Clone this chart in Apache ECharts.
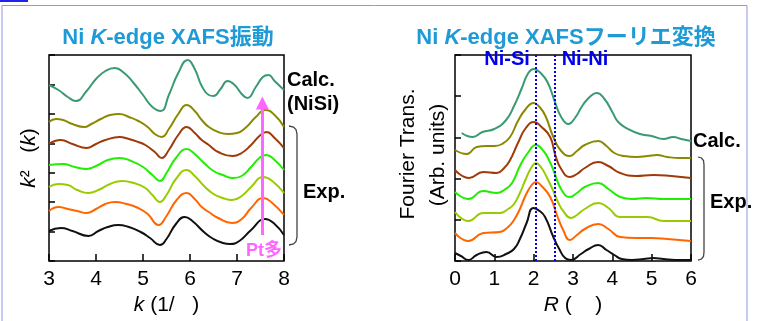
<!DOCTYPE html>
<html><head><meta charset="utf-8">
<script src="https://cdn.jsdelivr.net/npm/echarts@6/dist/echarts.min.js"></script>
<style>html,body{margin:0;padding:0;background:#fff}#c{width:758px;height:321px}</style>
</head><body><div id="c"></div>
<script>
// ---- data (arbitrary units, curves stacked with offsets as in the figure) ----
const kTicks = [3, 4, 5, 6, 7, 8];
const rTicks = [0, 1, 2, 3, 4, 5, 6];
const chiCalc = [[3.0,176],[3.2,171],[3.4,164],[3.57,160],[3.8,170],[4.0,182],[4.2,190],[4.4,193],[4.6,188],[4.8,178],[5.0,166],[5.2,154],[5.38,150],[5.55,166],[5.75,188],[5.95,201],[6.1,192],[6.25,175],[6.4,166],[6.5,165],[6.65,172],[6.8,180],[6.95,176],[7.1,167],[7.22,163],[7.4,174],[7.55,184],[7.67,186],[7.8,180],[8.0,171]];
const chiOlive = [[3.0,139],[3.15,142],[3.3,141],[3.5,137],[3.75,134],[3.9,137],[4.1,142],[4.3,146],[4.5,147],[4.7,144],[4.9,140],[5.1,134],[5.25,127],[5.4,124],[5.55,132],[5.75,147],[5.93,156],[6.1,150],[6.25,141],[6.4,134],[6.6,129],[6.8,127],[7.0,128],[7.2,134],[7.4,144],[7.6,151],[7.8,146],[8.0,134]];
const chiBrown = [[3.0,117],[3.25,121],[3.5,117],[3.8,113],[4.0,117],[4.2,121],[4.5,124],[4.7,122],[4.9,119],[5.05,116],[5.25,109],[5.4,103],[5.55,111],[5.75,126],[5.93,134],[6.1,128],[6.25,121],[6.4,116],[6.6,109],[6.9,105],[7.1,108],[7.3,116],[7.5,126],[7.63,129],[7.8,123],[8.0,113]];
const chiGreen = [[3.0,96],[3.3,97],[3.55,94],[3.8,92],[4.0,95],[4.25,101],[4.5,103],[4.75,100],[5.0,94],[5.2,86],[5.36,80],[5.5,88],[5.7,103],[5.93,112],[6.1,107],[6.3,98],[6.5,90],[6.7,86],[6.92,83],[7.1,85],[7.3,94],[7.5,104],[7.62,106],[7.8,101],[8.0,91]];
const chiYellow = [[3.0,74],[3.2,77],[3.4,76],[3.6,71],[3.84,68],[4.05,71],[4.3,77],[4.55,80],[4.8,78],[5.05,73],[5.2,66],[5.36,59],[5.5,66],[5.7,82],[5.93,91],[6.1,85],[6.32,74],[6.5,67],[6.7,63],[6.89,61],[7.1,65],[7.3,74],[7.56,84],[7.75,80],[8.0,68]];
const chiOrange = [[3.0,50],[3.2,54],[3.4,52],[3.6,50],[3.8,48],[4.0,52],[4.2,57],[4.4,59],[4.65,57],[4.9,53],[5.1,47],[5.33,36],[5.5,45],[5.7,60],[5.93,68],[6.1,62],[6.25,54],[6.4,49],[6.6,43],[6.89,38],[7.1,42],[7.3,53],[7.56,63],[7.75,58],[8.0,46]];
const chiBlack = [[3.0,30],[3.25,33],[3.5,30],[3.84,25],[4.05,30],[4.25,34],[4.47,36],[4.7,34],[4.95,29],[5.15,23],[5.36,16],[5.5,22],[5.7,37],[5.89,44],[6.05,40],[6.32,28],[6.5,22],[6.7,18],[6.85,17],[7.05,20],[7.3,31],[7.6,42],[7.8,37],[8.0,26]];

const ftCalc = [[0.17,128],[0.45,124],[0.7,129],[1.0,132],[1.3,141],[1.5,155],[1.7,173],[1.85,187],[2.0,192],[2.15,189],[2.35,179],[2.55,158],[2.7,144],[2.88,137],[3.05,143],[3.25,156],[3.45,165],[3.6,168],[3.8,162],[4.0,149],[4.15,139],[4.4,132],[4.7,127],[5.0,125],[5.3,122],[5.55,124],[5.75,122],[6.0,120]];
const ftOlive = [[0,111],[0.3,107],[0.55,114],[0.8,115],[1.0,115],[1.2,117],[1.4,124],[1.6,140],[1.8,152],[2.0,158],[2.15,154],[2.3,145],[2.5,124],[2.7,110],[2.92,105],[3.1,110],[3.3,116],[3.64,120],[3.85,115],[4.05,108],[4.3,105],[4.62,104],[4.9,105],[5.13,106],[5.4,104],[5.72,103],[6.0,103]];
const ftBrown = [[0,91],[0.36,83],[0.72,89],[1.06,88],[1.25,93],[1.4,101],[1.6,118],[1.8,133],[2.01,139],[2.2,134],[2.42,124],[2.55,106],[2.7,92],[2.92,84],[3.1,87],[3.3,93],[3.64,99],[3.9,95],[4.2,88],[4.6,85],[5.04,86],[5.5,85],[6.0,83]];
const ftGreen = [[0,69],[0.34,62],[0.72,70],[1.06,68],[1.25,71],[1.45,78],[1.65,95],[1.85,108],[2.06,116],[2.25,110],[2.4,100],[2.5,91],[2.71,71],[2.92,64],[3.1,68],[3.3,74],[3.64,78],[3.9,72],[4.2,64],[4.5,62],[4.87,63],[5.3,62],[5.7,62],[6.0,62]];
const ftYellow = [[0,49],[0.34,40],[0.72,48],[1.14,48],[1.35,52],[1.5,57],[1.65,68],[1.8,82],[1.95,94],[2.06,98],[2.2,93],[2.33,84],[2.5,70],[2.63,58],[2.75,50],[2.95,43],[3.1,46],[3.3,52],[3.64,58],[3.9,53],[4.2,44],[4.6,44],[4.9,44],[5.3,40],[5.7,40],[6.0,40]];
const ftOrange = [[0,28],[0.34,20],[0.72,28],[1.14,29],[1.35,34],[1.5,41],[1.65,52],[1.8,66],[1.95,76],[2.06,79],[2.2,75],[2.42,64],[2.6,45],[2.75,31],[2.92,21],[3.1,26],[3.3,32],[3.64,37],[3.9,32],[4.2,24],[4.6,23],[5.0,23],[5.4,22],[6.0,20]];
const ftBlack = [[0,8],[0.15,5],[0.34,1],[0.55,6],[0.8,9],[1.06,4],[1.3,7],[1.5,12],[1.65,22],[1.82,38],[1.99,53],[2.15,50],[2.29,44],[2.5,24],[2.65,12],[2.8,3],[2.95,1],[3.2,7],[3.4,12],[3.64,16],[3.85,11],[4.05,6],[4.24,2],[4.5,1],[4.8,2],[5.04,3],[5.3,2],[5.6,1],[6.0,1]];

const shellR = [2.05, 2.53];      // Ni-Si, Ni-Ni dotted markers
const arrowK = 7.54;              // "Pt多" arrow position
const arrowY = [26, 158];

const colors = ['#3a9a72', '#8a8a00', '#a03a08', '#22ee00', '#99cc00', '#ff6600', '#111111'];
const FF = '"Liberation Sans", Arial, "Noto Sans CJK JP", sans-serif';

const chart = echarts.init(document.getElementById('c'), null, {renderer: 'canvas'});

function line(data, i, gi, extra) {
  return Object.assign({
    type: 'line', xAxisIndex: gi, yAxisIndex: gi, data: data, smooth: 0.5,
    symbol: 'none', silent: true, lineStyle: {color: colors[i], width: 2}
  }, extra || {});
}

const axisBase = {
  axisLine: {show: false},
  splitLine: {show: false},
  axisTick: {inside: true, length: 7, lineStyle: {color: '#000', width: 1.5}},
};

const option = {
  animation: false,
  grid: [
    {left: 49, top: 55, width: 235, height: 206, show: true, borderColor: '#000', borderWidth: 1.5},
    {left: 455, top: 55, width: 236, height: 206, show: true, borderColor: '#000', borderWidth: 1.5}
  ],
  xAxis: [
    Object.assign({}, axisBase, {
      type: 'value', gridIndex: 0, min: kTicks[0], max: kTicks[kTicks.length - 1], interval: 1,
      axisLabel: {fontSize: 21, color: '#000', fontFamily: FF, margin: 8},
      name: '{i|k}{n| (1/   )}', nameLocation: 'middle', nameGap: 30,
      nameTextStyle: {rich: {i: {fontStyle: 'italic', fontSize: 21, fontFamily: FF, color: '#000'}, n: {fontSize: 21, fontFamily: FF, color: '#000'}}}
    }),
    Object.assign({}, axisBase, {
      type: 'value', gridIndex: 1, min: rTicks[0], max: rTicks[rTicks.length - 1], interval: 1,
      axisLabel: {fontSize: 21, color: '#000', fontFamily: FF, margin: 8},
      name: '{i|R}{n| (    )}', nameLocation: 'middle', nameGap: 30,
      nameTextStyle: {rich: {i: {fontStyle: 'italic', fontSize: 21, fontFamily: FF, color: '#000'}, n: {fontSize: 21, fontFamily: FF, color: '#000'}}}
    })
  ],
  yAxis: [
    Object.assign({}, axisBase, {type: 'value', gridIndex: 0, min: 0, max: 206, interval: 206 / 7,
      axisTick: {inside: true, length: 6, lineStyle: {color: '#000', width: 1.5}},
      axisLabel: {show: false}}),
    Object.assign({}, axisBase, {type: 'value', gridIndex: 1, min: 0, max: 206, interval: 206 / 5,
      axisTick: {inside: true, length: 6, lineStyle: {color: '#000', width: 1.5}},
      axisLabel: {show: false}})
  ],
  series: [
    line(chiCalc, 0, 0), line(chiOlive, 1, 0), line(chiBrown, 2, 0), line(chiGreen, 3, 0),
    line(chiYellow, 4, 0), line(chiOrange, 5, 0),
    line(chiBlack, 6, 0, {
      markLine: {
        silent: true, symbol: ['none', 'triangle'], symbolSize: 13,
        label: {show: false},
        lineStyle: {color: '#ff66ff', width: 3, type: 'solid'},
        data: [[{coord: [arrowK, arrowY[0]]}, {coord: [arrowK, arrowY[1]]}]]
      }
    }),
    line(ftCalc, 0, 1), line(ftOlive, 1, 1), line(ftBrown, 2, 1), line(ftGreen, 3, 1),
    line(ftYellow, 4, 1), line(ftOrange, 5, 1),
    line(ftBlack, 6, 1, {
      markLine: {
        silent: true, symbol: 'none', label: {show: false},
        lineStyle: {color: '#0000ee', width: 2, type: [2, 2]},
        data: shellR.map(r => ({xAxis: r}))
      }
    })
  ],
  graphic: [
    {type: 'polyline', shape: {points: [[2, 321], [2, 5.5], [747, 5.5], [747, 321]]}, style: {stroke: '#8f98dc', lineWidth: 1, fill: null}},
    {type: 'rect', shape: {x: 0, y: 0, width: 28, height: 2}, style: {fill: '#2222ee'}},
    // titles
    {type: 'text', x: 168, y: 38, style: {text: '{b|Ni }{bi|K}{b|-edge XAFS振動}', textAlign: 'center', textVerticalAlign: 'middle',
      rich: {b: {fontSize: 22, fontWeight: 'bold', fontFamily: FF, fill: '#1e9ad6'}, bi: {fontSize: 22, fontWeight: 'bold', fontStyle: 'italic', fontFamily: FF, fill: '#1e9ad6'}}}},
    {type: 'text', x: 566, y: 38, style: {text: '{b|Ni }{bi|K}{b|-edge XAFSフーリエ変換}', textAlign: 'center', textVerticalAlign: 'middle',
      rich: {b: {fontSize: 22, fontWeight: 'bold', fontFamily: FF, fill: '#1e9ad6'}, bi: {fontSize: 22, fontWeight: 'bold', fontStyle: 'italic', fontFamily: FF, fill: '#1e9ad6'}}}},
    // y axis names
    {type: 'text', x: 29, y: 158, rotation: Math.PI / 2, style: {text: '{i|k}{n|²   (}{i|k}{n|)}', textAlign: 'center', textVerticalAlign: 'middle',
      rich: {i: {fontSize: 21, fontStyle: 'italic', fontFamily: FF, fill: '#000'}, n: {fontSize: 21, fontFamily: FF, fill: '#000'}}}},
    {type: 'text', x: 408, y: 154, rotation: Math.PI / 2, style: {text: 'Fourier Trans.', textAlign: 'center', textVerticalAlign: 'middle', font: '21px ' + FF, fill: '#000'}},
    {type: 'text', x: 438, y: 155, rotation: Math.PI / 2, style: {text: '(Arb. units)', textAlign: 'center', textVerticalAlign: 'middle', font: '21px ' + FF, fill: '#000'}},
    // annotations
    {type: 'text', x: 287, y: 80, style: {text: 'Calc.', textVerticalAlign: 'middle', font: 'bold 20px ' + FF, fill: '#000'}},
    {type: 'text', x: 287, y: 104, style: {text: '(NiSi)', textVerticalAlign: 'middle', font: 'bold 20px ' + FF, fill: '#000'}},
    {type: 'text', x: 303, y: 192, style: {text: 'Exp.', textVerticalAlign: 'middle', font: 'bold 20px ' + FF, fill: '#000'}},
    {type: 'text', x: 693, y: 141, style: {text: 'Calc.', textVerticalAlign: 'middle', font: 'bold 20px ' + FF, fill: '#000'}},
    {type: 'text', x: 710, y: 202, style: {text: 'Exp.', textVerticalAlign: 'middle', font: 'bold 20px ' + FF, fill: '#000'}},
    {type: 'text', x: 264, y: 251, style: {text: 'Pt多', textAlign: 'center', textVerticalAlign: 'middle', font: 'bold 18px ' + FF, fill: '#ff66ff'}},
    {type: 'text', x: 507, y: 59, style: {text: 'Ni-Si', textAlign: 'center', textVerticalAlign: 'middle', font: 'bold 20px ' + FF, fill: '#0000ee'}},
    {type: 'text', x: 585, y: 59, style: {text: 'Ni-Ni', textAlign: 'center', textVerticalAlign: 'middle', font: 'bold 20px ' + FF, fill: '#0000ee'}},
    // braces
    {type: 'polyline', shape: {points: [[289,126],[293.5,127],[296,129.5],[297,134],[297,237],[296,241.5],[293.5,244],[289,245]]}, style: {stroke: '#444', lineWidth: 1.3, fill: null}},
    {type: 'polyline', shape: {points: [[698,157],[701.5,158],[703.5,160.5],[704,165],[704,252],[703.5,256.5],[701.5,259],[698,260]]}, style: {stroke: '#444', lineWidth: 1.3, fill: null}}
  ]
};
chart.setOption(option);
</script>
</body></html>
